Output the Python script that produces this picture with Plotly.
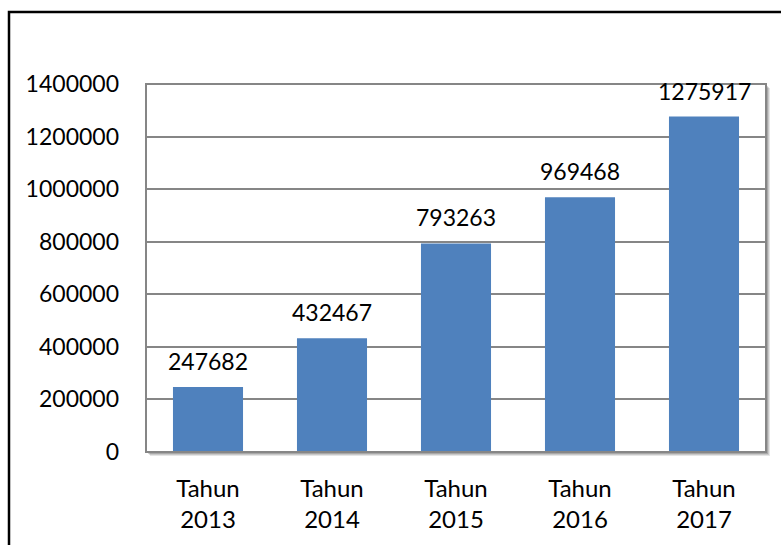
import plotly.graph_objects as go

categories = ["Tahun<br>2013", "Tahun<br>2014", "Tahun<br>2015", "Tahun<br>2016", "Tahun<br>2017"]
values = [247682, 432467, 793263, 969468, 1275917]
y_ticks = [0, 200000, 400000, 600000, 800000, 1000000, 1200000, 1400000]
y_tick_labels = [str(v) for v in y_ticks]

FONT = "Lato, Calibri, Carlito, sans-serif"

fig = go.Figure()
fig.add_trace(go.Bar(
    x=categories, y=values,
    marker=dict(color="#4F81BD", line=dict(width=0)),
    width=0.565,
))

for c, v in zip(categories, values):
    fig.add_annotation(x=c, y=v, text=str(v), showarrow=False,
                       yanchor="bottom", xanchor="center", yshift=10,
                       font=dict(family=FONT, size=23, color="#000000"))

L, R, T, B = 146, 15, 84, 93
W, H = 781, 545
pw = W - L - R
ph = H - T - B

def px_x(p):
    return (p - L) / pw

def px_y(p):
    return (H - B - p) / ph

shapes = []
# soft shadow of plot area
for i, col in enumerate(["rgba(0,0,0,0.10)", "rgba(0,0,0,0.12)", "rgba(0,0,0,0.16)"]):
    off = 4 - i
    shapes.append(dict(type="rect", xref="paper", yref="paper", layer="below",
                       x0=px_x(L + off), x1=px_x(W - R + off),
                       y0=px_y(H - B + off), y1=px_y(T + off),
                       line=dict(width=0), fillcolor=col))
shapes.append(dict(type="rect", xref="paper", yref="paper", layer="below",
                   x0=0, x1=1, y0=0, y1=1, line=dict(width=0), fillcolor="white"))
# plot area border
shapes.append(dict(type="rect", xref="paper", yref="paper", layer="above",
                   x0=0, x1=1, y0=0, y1=1, line=dict(color="#868686", width=2)))
# outer chart border
shapes.append(dict(type="rect", xref="paper", yref="paper", layer="above",
                   x0=px_x(9), x1=px_x(W + 20), y0=px_y(H + 20), y1=px_y(12),
                   line=dict(color="#000000", width=2.5)))

fig.update_layout(
    width=W, height=H,
    margin=dict(l=L, r=R, t=T, b=B, autoexpand=False),
    paper_bgcolor="white",
    plot_bgcolor="rgba(0,0,0,0)",
    showlegend=False,
    font=dict(family=FONT, size=23, color="#000000"),
    shapes=shapes,
)
fig.update_xaxes(
    automargin=False,
    showgrid=False, showline=False, zeroline=False,
    ticks="", ticklabelstandoff=20,
    tickfont=dict(family=FONT, size=24, color="#000000"),
)
fig.update_yaxes(
    automargin=False,
    range=[0, 1400000],
    tickvals=y_ticks, ticktext=y_tick_labels,
    showgrid=True, gridcolor="#868686", gridwidth=2,
    zeroline=False, showline=False, ticks="",
    ticklabelstandoff=26,
    tickfont=dict(family=FONT, size=23, color="#000000"),
)

fig.write_html("out.html",
               config={"displayModeBar": False},
               post_script="document.body.style.margin='0';document.body.style.padding='0';")
